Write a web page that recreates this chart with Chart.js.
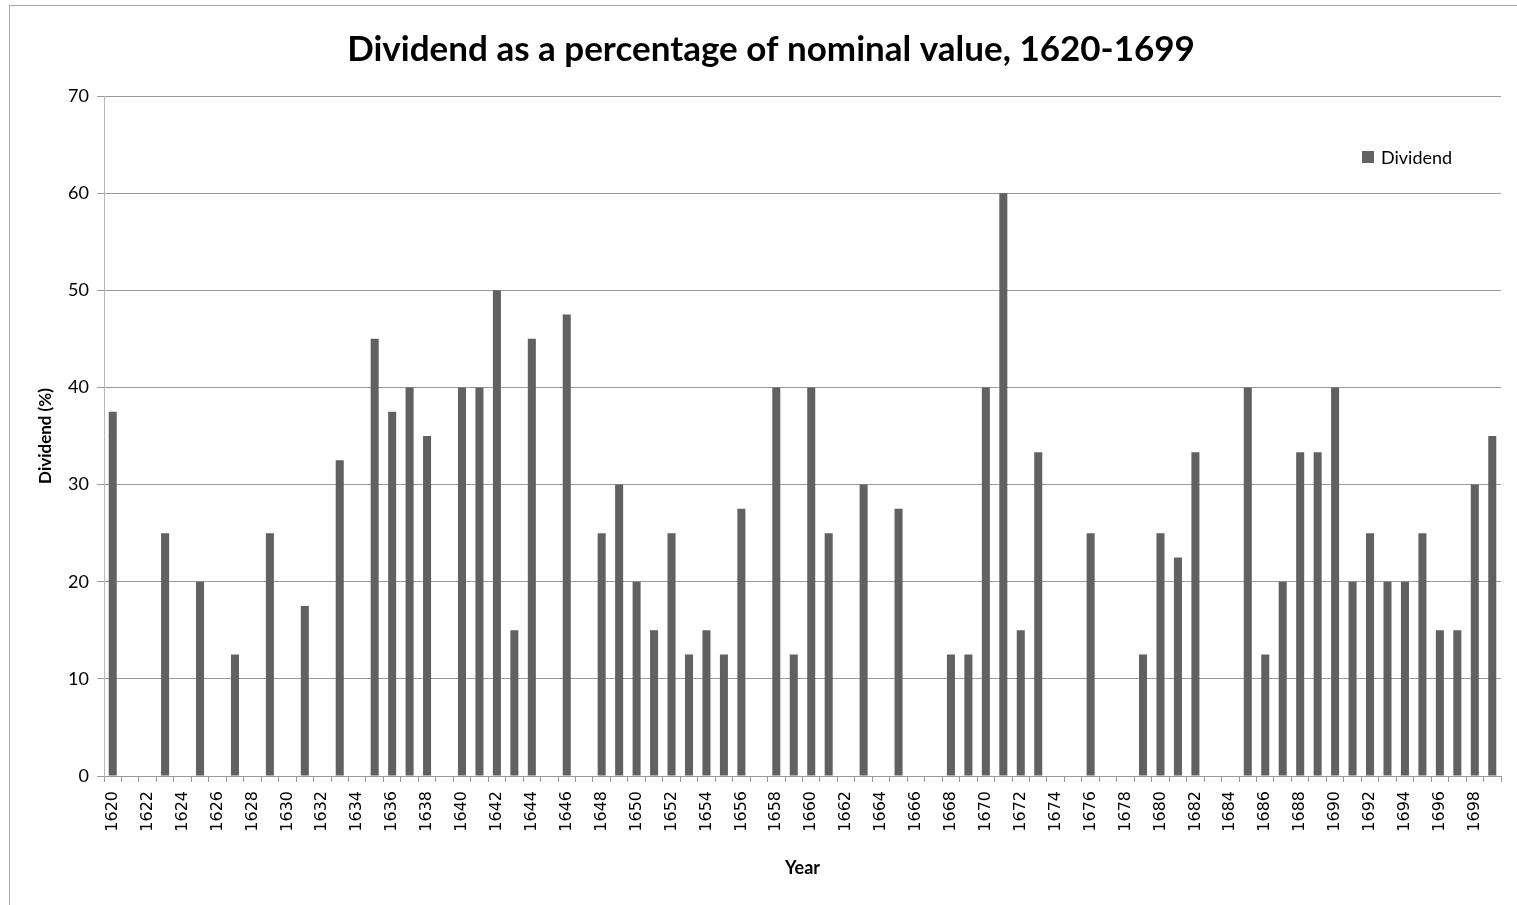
<!DOCTYPE html>
<html>
<head>
<meta charset="utf-8">
<script src="https://cdn.jsdelivr.net/npm/chart.js@4"></script>
<style>
  body { margin: 0; background: #fff; overflow: hidden; }
  .frame { position: absolute; left: 9px; top: 5px; width: 2000px; height: 2000px; border: 1px solid #a6a6a6; }
  .wrap { position: absolute; left: 0; top: 0; width: 1517px; height: 905px; }
</style>
</head>
<body>
<div class="frame"></div>
<div class="wrap"><canvas id="chart"></canvas></div>
<script>
// years 1620-1699, null where no dividend was paid
const years = [];
for (let y = 1620; y <= 1699; y++) years.push(String(y));

const dividend = [
  37.5, null, null, 25, null, 20, null, 12.5, null, 25,     // 1620-1629
  null, 17.5, null, 32.5, null, 45, 37.5, 40, 35, null,     // 1630-1639
  40, 40, 50, 15, 45, null, 47.5, null, 25, 30,             // 1640-1649
  20, 15, 25, 12.5, 15, 12.5, 27.5, null, 40, 12.5,         // 1650-1659
  40, 25, null, 30, null, 27.5, null, null, 12.5, 12.5,     // 1660-1669
  40, 60, 15, 33.33, null, null, 25, null, null, 12.5,      // 1670-1679
  25, 22.5, 33.33, null, null, 40, 12.5, 20, 33.33, 33.33,  // 1680-1689
  40, 20, 25, 20, 20, 25, 15, 15, 30, 35                    // 1690-1699
];

const yTicks = [0, 10, 20, 30, 40, 50, 60, 70];

const titleText = 'Dividend as a percentage of nominal value, 1620-1699';
const barColor = '#616161';
const gridColor = '#9a9a9a';

// title is drawn by hand so it can sit a little right of the canvas centre
const chartTitle = {
  id: 'chartTitle',
  afterDraw(chart) {
    const ctx = chart.ctx;
    ctx.save();
    ctx.fillStyle = '#000';
    ctx.font = 'bold 35px Lato';
    ctx.textAlign = 'center';
    ctx.textBaseline = 'middle';
    ctx.fillText(titleText, 771, 50);
    ctx.restore();
  }
};

// legend sits inside the plot area, top right
const insideLegend = {
  id: 'insideLegend',
  afterDraw(chart) {
    const ctx = chart.ctx;
    const area = chart.chartArea;
    const ds = chart.data.datasets[0];
    const x = area.right - 139;
    const y = area.top + 61;
    ctx.save();
    ctx.fillStyle = ds.backgroundColor;
    ctx.fillRect(x, y - 6, 12, 12);
    ctx.fillStyle = '#000';
    ctx.font = '18px Lato';
    ctx.textBaseline = 'middle';
    ctx.fillText(ds.label, x + 19, y + 1);
    ctx.restore();
  }
};

new Chart(document.getElementById('chart'), {
  type: 'bar',
  data: {
    labels: years,
    datasets: [{
      label: 'Dividend',
      data: dividend,
      backgroundColor: barColor,
      categoryPercentage: 1,
      barPercentage: 0.46
    }]
  },
  options: {
    responsive: true,
    maintainAspectRatio: false,
    animation: false,
    layout: { padding: { left: 0, right: 16, top: 96, bottom: 0 } },
    plugins: {
      legend: { display: false },
      tooltip: { enabled: false },
      title: { display: false }
    },
    scales: {
      x: {
        offset: true,
        grid: { offset: true, drawOnChartArea: false, color: gridColor, tickLength: 6 },
        border: { color: gridColor },
        ticks: {
          autoSkip: false,
          minRotation: 90,
          maxRotation: 90,
          padding: 9,
          color: '#000',
          font: { family: 'DejaVu Sans', size: 16 },
          callback: function (val, i) { return i % 2 === 0 ? this.getLabelForValue(val) : ''; }
        },
        title: {
          display: true,
          text: 'Year',
          color: '#000',
          font: { family: 'Lato', size: 18, weight: 'bold' },
          padding: { top: 22, bottom: 26 }
        },
        afterFit(scale) {
          scale.height = 129;
          scale.paddingLeft = 0;
          scale.paddingRight = 0;
        }
      },
      y: {
        min: 0,
        max: 70,
        afterBuildTicks(scale) { scale.ticks = yTicks.map(v => ({ value: v })); },
        grid: { color: gridColor, tickLength: 7 },
        border: { color: '#b8b8b8' },
        ticks: {
          padding: 8,
          color: '#000',
          font: { family: 'Lato', size: 18 }
        },
        title: {
          display: true,
          text: 'Dividend (%)',
          color: '#000',
          font: { family: 'Lato', size: 17, weight: 'bold' },
          padding: { top: 35, bottom: 0 }
        },
        afterFit(scale) { scale.width = 104; }
      }
    }
  },
  plugins: [chartTitle, insideLegend]
});
</script>
</body>
</html>
